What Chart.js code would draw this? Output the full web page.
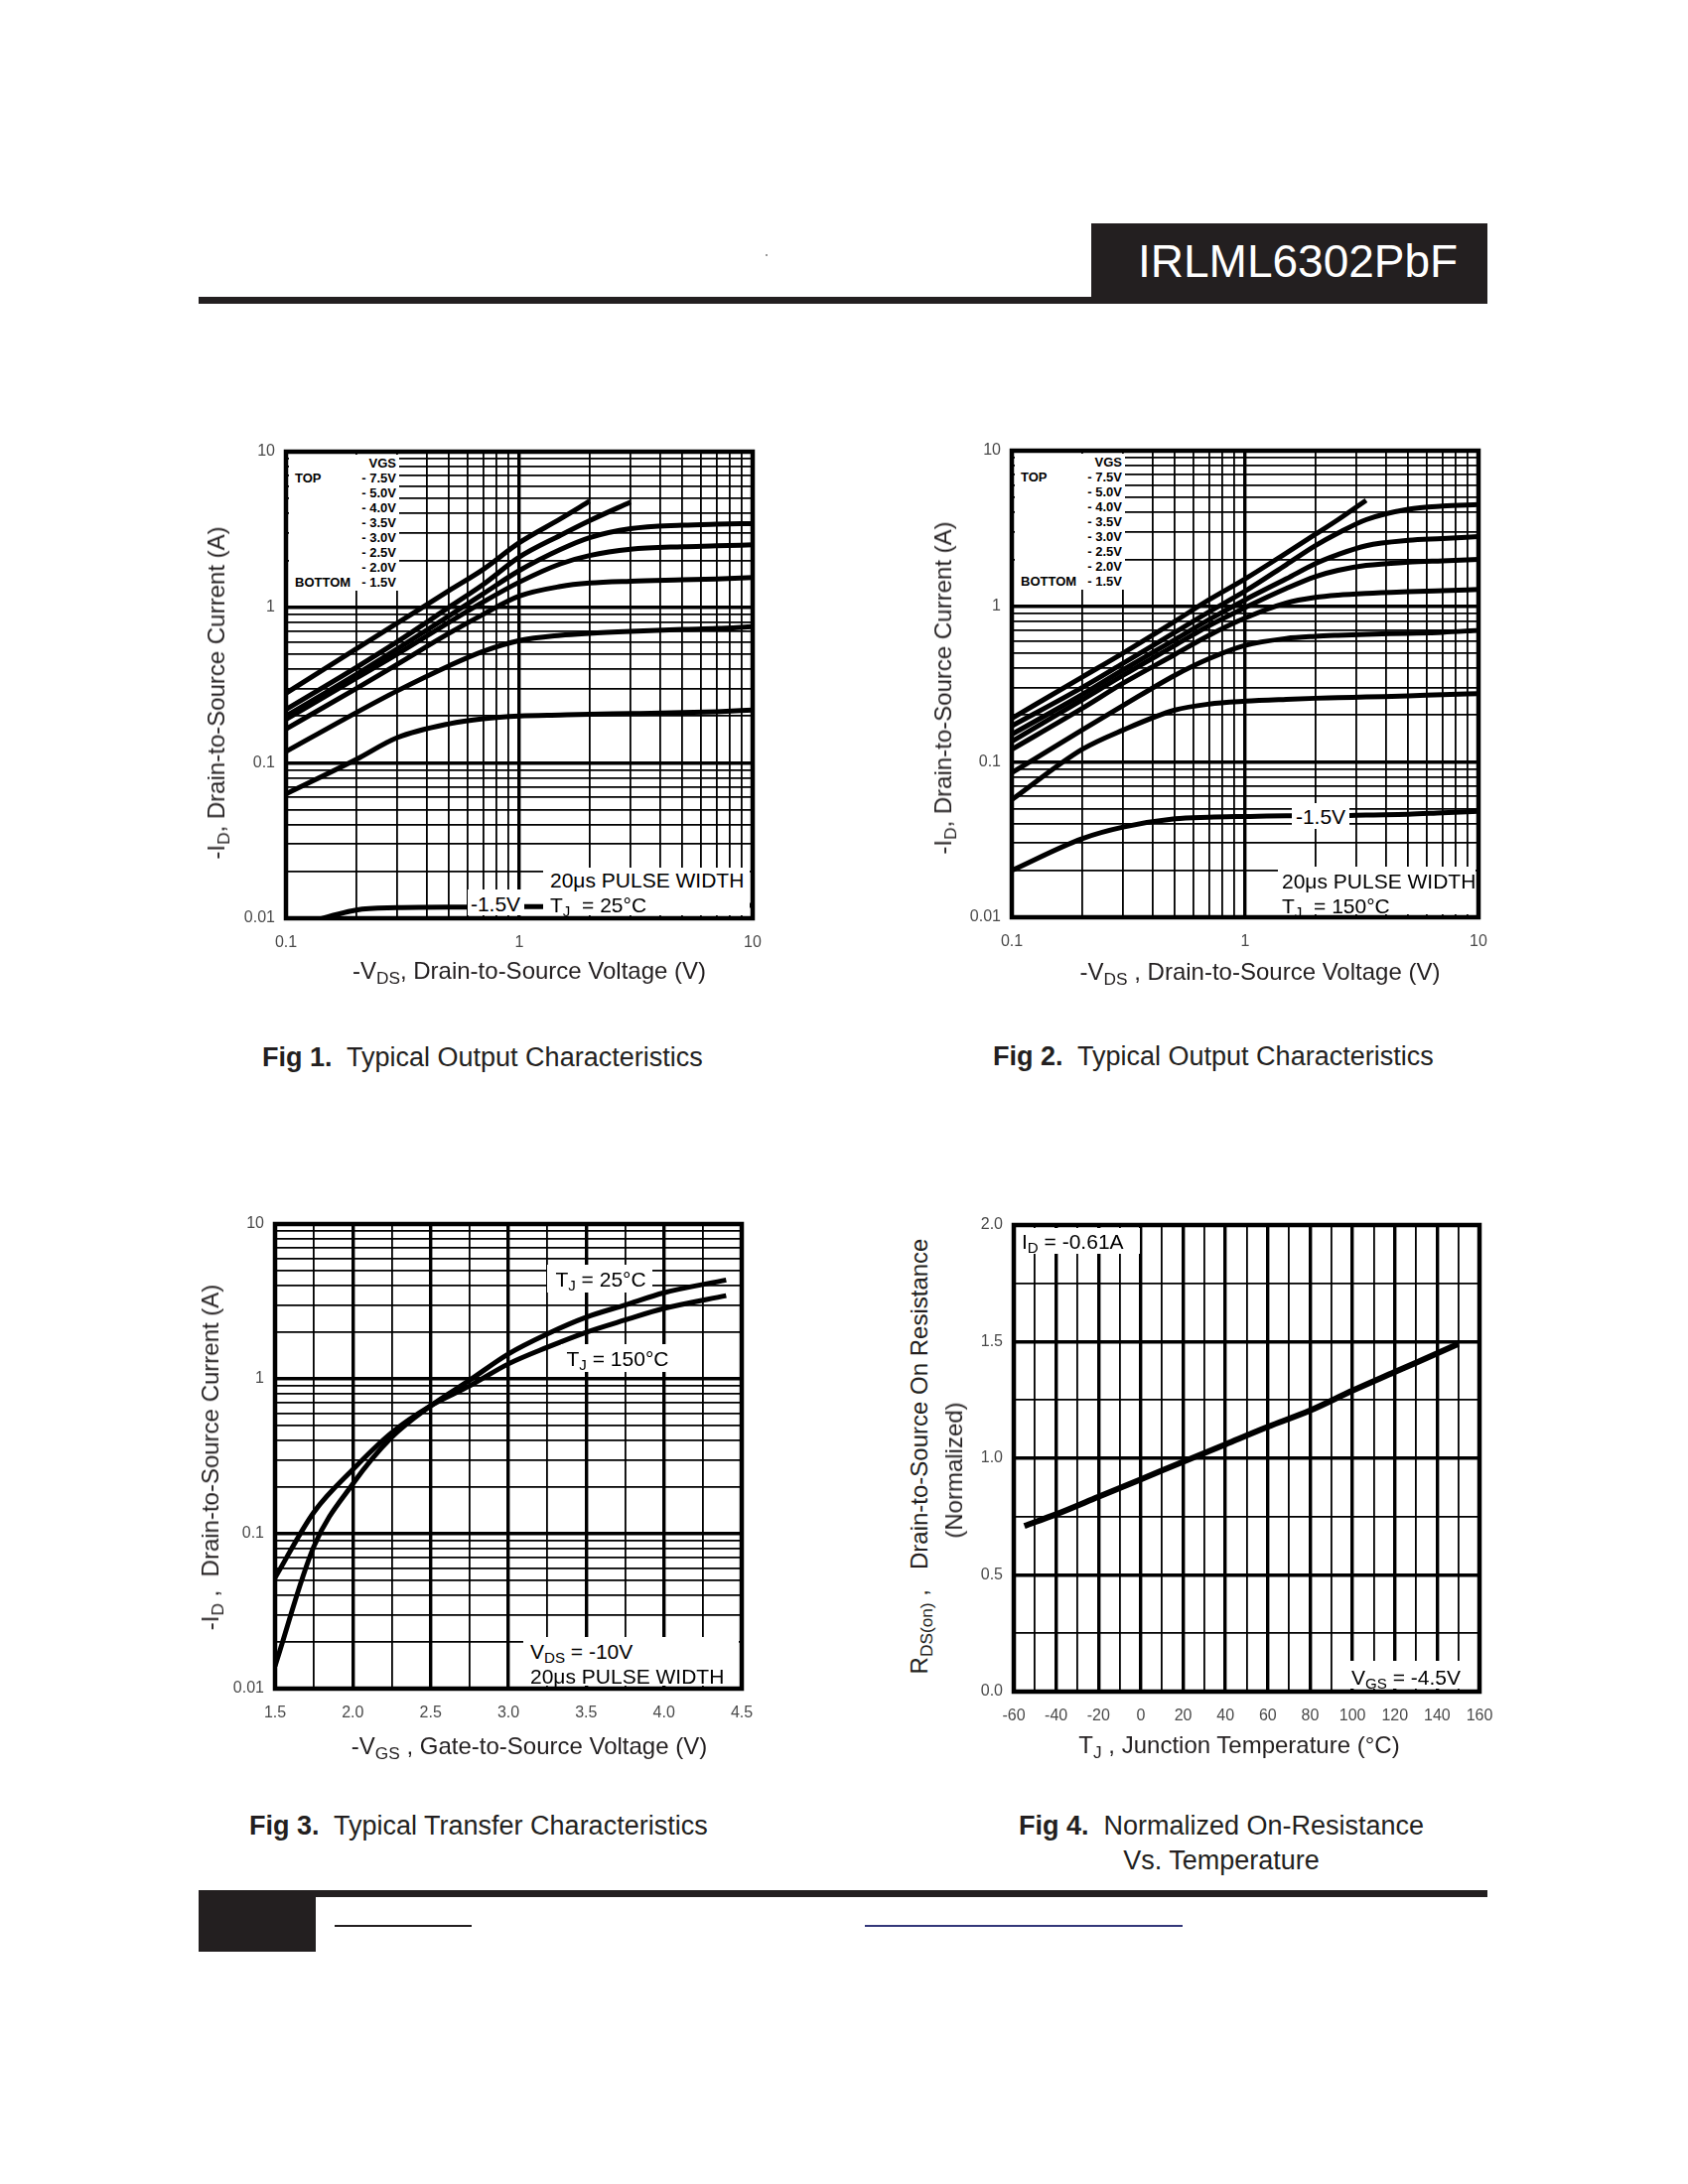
<!DOCTYPE html>
<html>
<head>
<meta charset="utf-8">
<title>IRLML6302PbF typical characteristics</title>
<script src="https://cdn.jsdelivr.net/npm/chart.js@4.4.1/dist/chart.umd.min.js"></script>
<style>
  body { margin: 0; background: #fff; }
  #page { position: relative; width: 1700px; height: 2200px; overflow: hidden; background: #fff;
          font-family: "Liberation Sans", Arial, sans-serif; color: #231f20; }
  #page canvas { position: absolute; }
  .abs { position: absolute; white-space: nowrap; line-height: 1; }
  .box { position: absolute; background: #fff; }
  .bar { position: absolute; background: #231f20; }
  .leg { font-size: 13px; font-weight: bold; color: #000; }
  .note { font-size: 21px; color: #000; }
  .title { font-size: 24px; }
  .cap { font-size: 27px; }
  sub { font-size: 0.72em; vertical-align: -0.28em; line-height: 0; }
</style>
</head>
<body>
<div id="page">
  <!-- header -->
  <div class="bar" style="left:1099px;top:225px;width:399px;height:80px;"></div>
  <div class="bar" style="left:200px;top:299px;width:1298px;height:7px;"></div>
  <div class="abs" style="left:1146px;top:263px;transform:translateY(-50%);color:#fff;font-size:46px;">IRLML6302PbF</div>
  <div style="position:absolute;left:771px;top:256px;width:2px;height:2px;background:#999;"></div>

  <!-- captions -->
  <div class="abs cap" style="left:264px;top:1065px;transform:translateY(-50%);"><b>Fig 1.</b>&nbsp; Typical Output Characteristics</div>
  <div class="abs cap" style="left:1000px;top:1064px;transform:translateY(-50%);"><b>Fig 2.</b>&nbsp; Typical Output Characteristics</div>
  <div class="abs cap" style="left:251px;top:1839px;transform:translateY(-50%);"><b>Fig 3.</b>&nbsp; Typical Transfer Characteristics</div>
  <div class="abs cap" style="left:1230px;top:1839px;transform:translate(-50%,-50%);"><b>Fig 4.</b>&nbsp; Normalized On-Resistance</div>
  <div class="abs cap" style="left:1230px;top:1874px;transform:translate(-50%,-50%);">Vs. Temperature</div>

  <!-- footer -->
  <div class="bar" style="left:200px;top:1904px;width:1298px;height:7px;"></div>
  <div class="bar" style="left:200px;top:1904px;width:118px;height:62px;"></div>
  <div class="bar" style="left:337px;top:1939px;width:138px;height:2px;"></div>
  <div style="position:absolute;left:871px;top:1939px;width:320px;height:2px;background:#34387a;"></div>
</div>

<script>
// ---- values ----
const vgsLevels = ['7.5V', '5.0V', '4.0V', '3.5V', '3.0V', '2.5V', '2.0V', '1.5V'];

// Fig 1: output characteristics, TJ = 25°C (-ID in A vs -VDS in V)
const fig1Vds  = [0.1, 0.2, 0.3, 0.5, 0.7, 1, 1.5, 2, 3, 5, 7, 10];
const fig1Id75 = [0.28, 0.54, 0.79, 1.28, 1.75, 2.6, 3.7, 4.8, null, null, null, null];
const fig1Id50 = [0.22, 0.41, 0.6, 1.0, 1.4, 2.1, 2.9, 3.6, 4.75, null, null, null];
const fig1Id40 = [0.2, 0.37, 0.54, 0.88, 1.22, 1.72, 2.35, 2.8, 3.2, 3.37, 3.42, 3.45];
const fig1Id35 = [0.19, 0.35, 0.5, 0.8, 1.08, 1.45, 1.9, 2.15, 2.36, 2.45, 2.48, 2.52];
const fig1Id30 = [0.165, 0.3, 0.43, 0.68, 0.9, 1.18, 1.36, 1.43, 1.47, 1.5, 1.52, 1.55];
const fig1Id25 = [0.118, 0.21, 0.29, 0.42, 0.52, 0.61, 0.66, 0.68, 0.7, 0.72, 0.73, 0.75];
const fig1Id20 = [0.063, 0.105, 0.145, 0.178, 0.192, 0.2, 0.203, 0.205, 0.207, 0.21, 0.213, 0.218];
const fig1Id15 = [0.0085, 0.0113, 0.0117, 0.0118, 0.0118, 0.0119, 0.0119, 0.012, 0.012, 0.012, 0.0121, 0.0121];

// Fig 2: output characteristics, TJ = 150°C
const fig2Vds  = [0.1, 0.2, 0.3, 0.5, 0.7, 1, 1.5, 2, 2.5, 3.3, 5, 7, 10];
const fig2Id75 = [0.19, 0.35, 0.5, 0.8, 1.1, 1.5, 2.2, 2.9, 3.6, 4.8, null, null, null];
const fig2Id50 = [0.17, 0.3, 0.43, 0.68, 0.92, 1.25, 1.85, 2.45, 2.95, 3.6, 4.2, 4.4, 4.5];
const fig2Id40 = [0.15, 0.27, 0.39, 0.61, 0.82, 1.1, 1.5, 1.88, 2.15, 2.45, 2.65, 2.72, 2.8];
const fig2Id35 = [0.135, 0.25, 0.36, 0.56, 0.75, 0.98, 1.3, 1.55, 1.7, 1.83, 1.92, 1.96, 2.0];
const fig2Id30 = [0.12, 0.22, 0.32, 0.49, 0.65, 0.84, 1.05, 1.14, 1.18, 1.21, 1.24, 1.26, 1.28];
const fig2Id25 = [0.085, 0.16, 0.23, 0.36, 0.46, 0.56, 0.62, 0.64, 0.65, 0.66, 0.67, 0.68, 0.7];
const fig2Id20 = [0.057, 0.12, 0.16, 0.215, 0.235, 0.245, 0.252, 0.256, 0.258, 0.261, 0.265, 0.27, 0.274];
const fig2Id15 = [0.02, 0.032, 0.038, 0.043, 0.044, 0.0445, 0.045, 0.045, 0.045, 0.0455, 0.046, 0.047, 0.048];

// Fig 3: transfer characteristics, VDS = -10V
const fig3Vgs    = [1.5, 1.75, 2.0, 2.25, 2.5, 2.75, 3.0, 3.25, 3.5, 3.75, 4.0, 4.4];
const fig3Id25C  = [0.014, 0.083, 0.21, 0.42, 0.67, 0.98, 1.45, 1.95, 2.5, 3.0, 3.6, 4.35];
const fig3Id150C = [0.052, 0.138, 0.26, 0.45, 0.67, 0.9, 1.25, 1.6, 2.0, 2.4, 2.85, 3.45];

// Fig 4: normalized RDS(on) vs junction temperature
const fig4Tj  = [-55, -40, -20, 0, 20, 40, 60, 80, 100, 120, 140, 150];
const fig4Rds = [0.71, 0.76, 0.835, 0.91, 0.985, 1.06, 1.135, 1.205, 1.29, 1.37, 1.45, 1.49];

// ---- layout ----
const page = document.getElementById('page');
const AX_W = 60, AX_H = 45, PAD_T = 15, PAD_R = 25;
const rect1 = { left: 288, top: 455, w: 470, h: 470 };
const rect2 = { left: 1019, top: 454, w: 470, h: 470 };
const rect3 = { left: 277, top: 1233, w: 470, h: 468 };
const rect4 = { left: 1021, top: 1234, w: 469, h: 470 };
const tickFont = { family: 'Liberation Sans', size: 16 };

function isDecade(v) {
    const l = Math.log10(v);
    return Math.abs(l - Math.round(l)) < 1e-6;
}
function decadeLabel(v) {
    if (!isDecade(v)) return '';
    const e = Math.round(Math.log10(v));
    return e >= 0 ? String(Math.pow(10, e)) : Math.pow(10, e).toFixed(-e);
}
function onStep(v, s) {
    return Math.abs(v / s - Math.round(v / s)) < 1e-6;
}
// grid lines at 1..9 of every decade
function logTicks(min, max) {
    const out = [];
    for (let e = Math.round(Math.log10(min)); e < Math.round(Math.log10(max)); e++) {
        for (let m = 1; m < 10; m++) out.push(Number((m * Math.pow(10, e)).toPrecision(6)));
    }
    out.push(max);
    return out;
}

function axis(pos, type, min, max, opt) {
    const horiz = pos === 'bottom';
    const a = {
        type: type, position: pos, min: min, max: max,
        ticks: {
            autoSkip: false, maxRotation: 0, minRotation: 0,
            padding: horiz ? 15 : 11, font: tickFont, color: '#4a4a4a',
            callback: opt.label
        },
        grid: {
            drawTicks: false, color: '#000',
            lineWidth: ctx => (ctx.tick && opt.heavy(ctx.tick.value)) ? 3.4 : 1.8
        },
        border: { display: false },
        afterFit: s => {
            if (horiz) s.height = AX_H; else s.width = AX_W;
            s.paddingLeft = s.paddingRight = s.paddingTop = s.paddingBottom = 0;
        }
    };
    if (opt.step) a.ticks.stepSize = opt.step;
    if (type === 'logarithmic') {
        a.afterBuildTicks = s => { s.ticks = logTicks(min, max).map(v => ({ value: v })); };
    }
    return a;
}
const logOpt = { label: v => decadeLabel(v), heavy: isDecade };

// thick frame round the plot area
const framePlugin = {
    id: 'frame',
    afterDraw(chart) {
        const { ctx, chartArea: a } = chart;
        ctx.save();
        ctx.strokeStyle = '#000';
        ctx.lineWidth = 4.5;
        ctx.strokeRect(a.left, a.top, a.right - a.left, a.bottom - a.top);
        ctx.restore();
    }
};

function curve(xs, ys, width) {
    return {
        data: xs.map((x, i) => ({ x: x, y: ys[i] })).filter(p => p.y !== null),
        borderColor: '#000', borderWidth: width || 5, pointRadius: 0,
        cubicInterpolationMode: 'monotone', fill: false
    };
}

function makeChart(r, xAxis, yAxis, datasets) {
    const c = document.createElement('canvas');
    const W = AX_W + r.w + PAD_R, H = PAD_T + r.h + AX_H;
    c.width = W; c.height = H;
    c.style.left = (r.left - AX_W) + 'px';
    c.style.top = (r.top - PAD_T) + 'px';
    c.style.width = W + 'px';
    c.style.height = H + 'px';
    page.appendChild(c);
    return new Chart(c.getContext('2d'), {
        type: 'line',
        data: { datasets: datasets },
        options: {
            responsive: false, animation: false, events: [],
            layout: { padding: { top: PAD_T, right: PAD_R, left: 0, bottom: 0 } },
            scales: { x: xAxis, y: yAxis },
            plugins: { legend: { display: false }, tooltip: { enabled: false } }
        },
        plugins: [framePlugin]
    });
}

// Fig 1
makeChart(rect1,
    axis('bottom', 'logarithmic', 0.1, 10, logOpt),
    axis('left', 'logarithmic', 0.01, 10, logOpt),
    [fig1Id75, fig1Id50, fig1Id40, fig1Id35, fig1Id30, fig1Id25, fig1Id20, fig1Id15].map(ys => curve(fig1Vds, ys)));

// Fig 2
makeChart(rect2,
    axis('bottom', 'logarithmic', 0.1, 10, logOpt),
    axis('left', 'logarithmic', 0.01, 10, logOpt),
    [fig2Id75, fig2Id50, fig2Id40, fig2Id35, fig2Id30, fig2Id25, fig2Id20, fig2Id15].map(ys => curve(fig2Vds, ys)));

// Fig 3
makeChart(rect3,
    axis('bottom', 'linear', 1.5, 4.5, { step: 0.25, label: v => onStep(v, 0.5) ? v.toFixed(1) : '', heavy: v => onStep(v, 0.5) }),
    axis('left', 'logarithmic', 0.01, 10, logOpt),
    [curve(fig3Vgs, fig3Id25C), curve(fig3Vgs, fig3Id150C)]);

// Fig 4
makeChart(rect4,
    axis('bottom', 'linear', -60, 160, { step: 10, label: v => onStep(v, 20) ? String(v) : '', heavy: v => onStep(v, 20) }),
    axis('left', 'linear', 0, 2, { step: 0.25, label: v => onStep(v, 0.5) ? v.toFixed(1) : '', heavy: v => onStep(v, 0.5) }),
    [curve(fig4Tj, fig4Rds, 6)]);

// ---- text overlays ----
function put(x, y, html, cls, align, extra) {
    const d = document.createElement('div');
    d.className = 'abs ' + (cls || '');
    d.innerHTML = html;
    d.style.left = x + 'px';
    d.style.top = y + 'px';
    let t = align === 'r' ? 'translate(-100%,-50%)' : align === 'c' ? 'translate(-50%,-50%)' : 'translateY(-50%)';
    if (extra) t += ' ' + extra;
    d.style.transform = t;
    page.appendChild(d);
    return d;
}
function box(r, x, y, w, h) {
    const d = document.createElement('div');
    d.className = 'box';
    d.style.left = (r.left + x) + 'px';
    d.style.top = (r.top + y) + 'px';
    d.style.width = w + 'px';
    d.style.height = h + 'px';
    page.appendChild(d);
}
function vgsLegend(r) {
    box(r, 3, 3, 111, 137);
    put(r.left + 111, r.top + 11, 'VGS', 'leg', 'r');
    vgsLevels.forEach((v, i) => put(r.left + 111, r.top + 26 + i * 15, '- ' + v, 'leg', 'r'));
    put(r.left + 9, r.top + 26, 'TOP', 'leg');
    put(r.left + 9, r.top + 131, 'BOTTOM', 'leg');
}

// Fig 1 notes
vgsLegend(rect1);
box(rect1, 183, 441, 57, 26);
put(rect1.left + 211, rect1.top + 455, '-1.5V', 'note', 'c');
box(rect1, 259, 419, 208, 48);
put(rect1.left + 266, rect1.top + 431, '20μs PULSE WIDTH', 'note');
put(rect1.left + 266, rect1.top + 456, 'T<sub>J</sub>&nbsp; = 25°C', 'note');

// Fig 2 notes
vgsLegend(rect2);
box(rect2, 282, 355, 58, 26);
put(rect2.left + 311, rect2.top + 368, '-1.5V', 'note', 'c');
box(rect2, 268, 419, 199, 48);
put(rect2.left + 272, rect2.top + 433, '20μs PULSE WIDTH', 'note');
put(rect2.left + 272, rect2.top + 458, 'T<sub>J</sub>&nbsp; = 150°C', 'note');

// Fig 3 notes
box(rect3, 274, 41, 106, 28);
put(rect3.left + 328, rect3.top + 55, 'T<sub>J</sub> = 25°C', 'note', 'c');
box(rect3, 288, 121, 114, 28);
put(rect3.left + 345, rect3.top + 135, 'T<sub>J</sub> = 150°C', 'note', 'c');
box(rect3, 250, 416, 217, 49);
put(rect3.left + 257, rect3.top + 430, 'V<sub>DS</sub> = -10V', 'note');
put(rect3.left + 257, rect3.top + 455, '20μs PULSE WIDTH', 'note');

// Fig 4 notes
box(rect4, 3, 3, 124, 26);
put(rect4.left + 8, rect4.top + 16, 'I<sub>D</sub> = -0.61A', 'note');
box(rect4, 333, 439, 133, 28);
put(rect4.left + 340, rect4.top + 455, 'V<sub>GS</sub> = -4.5V', 'note');

// ---- axis titles ----
const rot = 'rotate(-90deg)';
put(533, 978, '-V<sub>DS</sub>, Drain-to-Source Voltage (V)', 'title', 'c');
put(218, 698, '-I<sub>D</sub>, Drain-to-Source Current (A)', 'title', 'c', rot);
put(1269, 979, '-V<sub>DS</sub> , Drain-to-Source Voltage (V)', 'title', 'c');
put(950, 693, '-I<sub>D</sub>, Drain-to-Source Current (A)', 'title', 'c', rot);
put(533, 1759, '-V<sub>GS</sub> , Gate-to-Source Voltage (V)', 'title', 'c');
put(212, 1468, '-I<sub>D</sub> ,&nbsp; Drain-to-Source Current (A)', 'title', 'c', rot);
put(1248, 1758, 'T<sub>J</sub> , Junction Temperature (°C)', 'title', 'c');
put(926, 1467, 'R<sub>DS(on)</sub> ,&nbsp;&nbsp; Drain-to-Source On Resistance', 'title', 'c', rot);
put(961, 1481, '(Normalized)', 'title', 'c', rot);
</script>
</body>
</html>
